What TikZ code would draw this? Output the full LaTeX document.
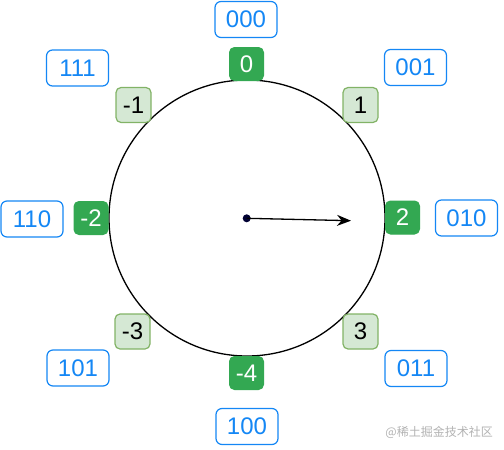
\documentclass[tikz,border=0pt]{standalone}
\usepackage{fontspec}
\setmainfont{Liberation Sans}
\newfontfamily\cjk{Noto Sans CJK SC}
\usetikzlibrary{arrows.meta}
\definecolor{dg}{HTML}{33A852}
\definecolor{lgfill}{HTML}{D5E8D4}
\definecolor{lgdraw}{HTML}{82B366}
\definecolor{bl}{HTML}{1487F5}
\definecolor{dotc}{HTML}{000033}
\begin{document}
\begin{tikzpicture}[x=1pt,y=-1pt,
  binbox/.style={draw=bl, fill=white, line width=1.2pt, rounded corners=6pt, minimum width=62pt, minimum height=36pt, inner sep=0pt, text=bl, font=\fontsize{24}{24}\selectfont},
  dgbox/.style={draw=dg, fill=dg, line width=1pt, rounded corners=5pt, minimum width=34pt, minimum height=33pt, inner sep=0pt, text=white, font=\fontsize{24}{24}\selectfont},
  lgbox/.style={draw=lgdraw, fill=lgfill, line width=1.2pt, rounded corners=5pt, minimum width=35pt, minimum height=35pt, inner sep=0pt, text=black, font=\fontsize{24}{24}\selectfont}
]
\useasboundingbox (0,0) rectangle (504,450);
\node[draw=black, line width=1.3pt, circle, minimum size=276pt, inner sep=0pt] (c) at (247,218) {};
% green dark
\node[dgbox] (n0) at (246.5,64) {0};
\node[dgbox] (n2) at (402.5,217.5) {2};
\node[dgbox] (nm2) at (91,218) {-2};
\node[dgbox] (nm4) at (246.5,373) {-4};
% light green
\node[lgbox] (nm1) at (133.5,105) {-1};
\node[lgbox] (n1) at (360.5,105) {1};
\node[lgbox] (nm3) at (132.5,331.5) {-3};
\node[lgbox] (n3) at (360.5,331.5) {3};
% binary
\node[binbox] (b000) at (246,19.5) {000};
\node[binbox] (b001) at (415.5,67.5) {001};
\node[binbox] (b010) at (466.5,218) {010};
\node[binbox] (b011) at (416,368.5) {011};
\node[binbox] (b100) at (247,426.5) {100};
\node[binbox] (b101) at (78,368) {101};
\node[binbox] (b110) at (32,219) {110};
\node[binbox] (b111) at (77.5,68) {111};
% pointer
\node[circle, fill=dotc, minimum size=8pt, inner sep=0pt] (dot) at (246.7,218.3) {};
\coordinate (tip) at (351,220.7);
\draw[line width=1.3pt, -{Stealth[length=14pt,width=11pt]}] (dot.center) -- (tip);
% watermark
\node[text=black!30, font=\cjk\fontsize{12}{12}\selectfont, anchor=east, inner sep=0pt] (wm) at (493,432) {@稀土掘金技术社区};
\end{tikzpicture}
\end{document}
